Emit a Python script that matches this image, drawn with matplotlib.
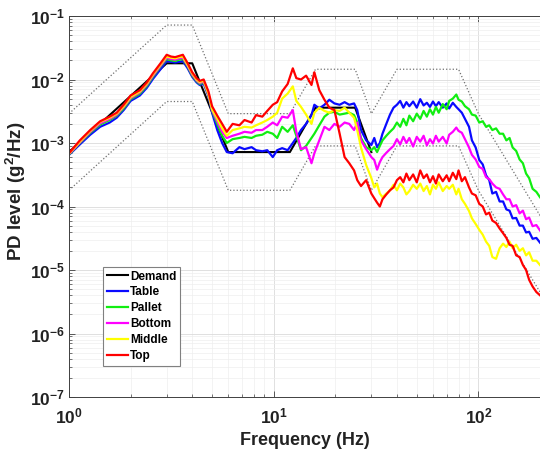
import numpy as np
import matplotlib
matplotlib.use("Agg")
import matplotlib.pyplot as plt
from matplotlib.ticker import FixedLocator, FixedFormatter, LogLocator, NullFormatter

plt.rcParams["font.family"] = ["Liberation Sans", "DejaVu Sans"]
plt.rcParams["mathtext.fontset"] = "custom"
plt.rcParams["mathtext.rm"] = "Liberation Sans"
plt.rcParams["mathtext.bf"] = "Liberation Sans:bold"

# ── Demand profile and +/-6 dB tolerance ─────────────────────────────────────
# the demand trace is only visible up to ~30 Hz; above that the measured
# curves sit on top of it
DEMAND_F = [1, 3, 4, 6, 12, 16, 25, 30]
DEMAND = [7.2e-4, 1.8e-2, 1.8e-2, 7.2e-4, 7.2e-4, 3.6e-3, 3.6e-3, 7.2e-4]

TOL_F = [1, 3, 4, 6, 12, 16, 25, 30, 40, 80, 100, 200]
UPPER = [2.9e-3, 7.2e-2, 7.2e-2, 2.9e-3, 2.9e-3, 1.45e-2, 1.45e-2, 2.9e-3,
         1.45e-2, 1.45e-2, 2.9e-3, 7.2e-5]
LOWER = [1.8e-4, 4.5e-3, 4.5e-3, 1.8e-4, 1.8e-4, 9.0e-4, 9.0e-4, 1.8e-4,
         9.0e-4, 9.0e-4, 1.8e-4, 4.5e-6]

# ── Measured PSDs (g^2/Hz) on a shared frequency grid ─────────────────────────
FREQ = [1, 1.13, 1.27, 1.42, 1.58, 1.71, 1.85, 2.0, 2.22, 2.4, 2.57, 2.8, 3.0,
        3.15, 3.3, 3.45, 3.6, 3.8, 4.0, 4.2, 4.35, 4.55, 4.8, 5.0, 5.3, 5.6, 5.9,
        6.3, 6.8, 7.2, 7.8, 8.2, 8.8, 9.3, 9.9, 10.4, 11.0, 11.7, 12.4, 12.9,
        13.6, 14.4, 15.3, 15.8, 16.7, 17.7, 18.7, 19.8, 21.0, 22.2, 23.4, 24.7,
        25.6, 26.7, 28.3, 30.0,
        31, 32, 33, 34, 35.5, 37, 38.5, 40, 41.5, 43, 44.5, 46, 48, 50, 52, 54,
        56, 58, 60, 62, 64, 67, 70, 72, 75, 78, 80, 83, 86, 90, 93, 97, 101,
        105, 109, 113, 117, 122, 127, 132, 137, 142, 147, 153, 159, 165, 171,
        177, 184, 192, 200]

TABLE = [6.5e-4, 9.5e-4, 1.35e-3, 1.8e-3, 2.1e-3, 2.5e-3, 3.3e-3, 4.6e-3,
         5.6e-3, 7.4e-3, 1.02e-2, 1.45e-2, 1.95e-2, 1.9e-2, 1.85e-2, 1.9e-2,
         1.95e-2, 1.5e-2, 1.1e-2, 9.0e-3, 8.2e-3, 8.6e-3, 5.5e-3, 3.0e-3,
         1.6e-3, 1.0e-3, 7.2e-4,
         6.9e-4, 8.6e-4, 8.0e-4, 8.6e-4, 7.7e-4, 7.4e-4, 7.7e-4, 6.0e-4, 7.7e-4,
         8.3e-4, 7.7e-4, 1.0e-3, 1.2e-3, 1.6e-3, 2.0e-3, 2.75e-3, 4.0e-3,
         3.5e-3, 4.0e-3, 4.8e-3, 4.2e-3, 4.0e-3, 4.4e-3, 4.0e-3, 4.2e-3,
         3.3e-3, 1.6e-3, 1.1e-3, 9.3e-4,
         1.2e-3, 8.6e-4, 1.0e-3, 1.4e-3, 2.0e-3, 2.8e-3, 3.6e-3, 4.0e-3,
         4.6e-3, 3.6e-3, 4.4e-3, 3.8e-3, 4.5e-3, 3.6e-3, 4.9e-3, 3.9e-3,
         4.3e-3, 3.7e-3, 4.5e-3, 3.8e-3, 4.4e-3, 3.6e-3, 4.2e-3, 3.5e-3,
         4.3e-3, 3.7e-3, 3.4e-3, 3.0e-3, 2.4e-3, 1.8e-3, 1.1e-3, 8.5e-4,
         5.4e-4, 4.6e-4, 3.1e-4, 2.6e-4, 1.6e-4, 1.7e-4, 1.2e-4, 1.2e-4,
         9.0e-5, 8.6e-5, 6.5e-5, 6.6e-5, 5.0e-5, 5.0e-5, 3.9e-5, 4.0e-5,
         3.1e-5, 3.2e-5, 2.7e-5]

PALLET = [6.6e-4, 1.0e-3, 1.45e-3, 1.95e-3, 2.3e-3, 2.7e-3, 3.5e-3, 4.9e-3,
          6.0e-3, 7.9e-3, 1.1e-2, 1.6e-2, 2.1e-2, 2.0e-2, 1.95e-2, 2.05e-2,
          2.1e-2, 1.6e-2, 1.15e-2, 9.4e-3, 8.5e-3, 9.0e-3, 5.7e-3, 3.2e-3,
          2.0e-3, 1.3e-3, 1.0e-3,
          1.15e-3, 1.2e-3, 1.25e-3, 1.2e-3, 1.3e-3, 1.35e-3, 1.5e-3, 1.4e-3,
          1.2e-3, 1.8e-3, 1.5e-3, 1.9e-3, 1.3e-3, 7.7e-4, 9.0e-4, 1.2e-3,
          1.4e-3, 1.9e-3, 2.6e-3, 3.0e-3, 3.1e-3, 2.8e-3, 2.9e-3, 3.0e-3,
          2.75e-3, 2.1e-3, 1.2e-3, 8.6e-4, 7.7e-4,
          8.6e-4, 7.2e-4, 9.0e-4, 1.1e-3, 1.3e-3, 1.5e-3, 1.7e-3, 2.1e-3,
          1.8e-3, 2.4e-3, 1.9e-3, 2.7e-3, 2.2e-3, 2.9e-3, 2.4e-3, 3.2e-3,
          2.6e-3, 3.4e-3, 2.8e-3, 3.7e-3, 3.0e-3, 4.1e-3, 3.4e-3, 4.6e-3,
          5.0e-3, 5.8e-3, 4.8e-3, 4.5e-3, 3.8e-3, 3.4e-3, 2.8e-3, 2.7e-3,
          2.1e-3, 2.2e-3, 1.8e-3, 1.9e-3, 1.6e-3, 1.7e-3, 1.4e-3, 1.4e-3,
          1.1e-3, 1.2e-3, 8.5e-4, 7.5e-4, 5.5e-4, 4.8e-4, 3.3e-4, 2.8e-4,
          1.9e-4, 1.7e-4, 1.4e-4]

BOTTOM = [6.7e-4, 1.02e-3, 1.5e-3, 2.05e-3, 2.4e-3, 2.8e-3, 3.7e-3, 5.1e-3,
          6.3e-3, 8.3e-3, 1.15e-2, 1.65e-2, 2.2e-2, 2.1e-2, 2.05e-2, 2.15e-2,
          2.2e-2, 1.65e-2, 1.2e-2, 9.7e-3, 8.8e-3, 9.3e-3, 5.8e-3, 3.3e-3,
          2.2e-3, 1.5e-3, 1.2e-3,
          1.3e-3, 1.4e-3, 1.5e-3, 1.45e-3, 1.6e-3, 1.6e-3, 1.8e-3, 2.1e-3,
          1.9e-3, 2.6e-3, 2.5e-3, 3.3e-3, 1.5e-3, 8.0e-4, 8.6e-4, 4.8e-4,
          6.9e-4, 1.1e-3, 1.8e-3, 1.6e-3, 2.0e-3, 1.8e-3, 2.1e-3, 2.0e-3,
          1.6e-3, 2.1e-3, 1.1e-3, 8.0e-4, 6.0e-4,
          5.4e-4, 3.8e-4, 5.0e-4, 6.0e-4, 7.0e-4, 8.0e-4, 9.0e-4, 1.15e-3,
          9.5e-4, 1.25e-3, 1.0e-3, 1.2e-3, 8.8e-4, 1.25e-3, 1.05e-3, 1.3e-3,
          9.2e-4, 1.15e-3, 9.8e-4, 1.3e-3, 1.05e-3, 1.25e-3, 9.8e-4, 1.35e-3,
          1.5e-3, 1.75e-3, 1.55e-3, 1.45e-3, 1.15e-3, 8.5e-4, 6.5e-4, 5.5e-4,
          4.2e-4, 3.9e-4, 2.9e-4, 2.7e-4, 2.3e-4, 2.0e-4, 1.9e-4, 1.55e-4,
          1.3e-4, 1.3e-4, 1.0e-4, 1.05e-4, 7.8e-5, 8.6e-5, 6.3e-5, 6.7e-5,
          4.9e-5, 5.1e-5, 4.2e-5]

MIDDLE = [6.8e-4, 1.05e-3, 1.55e-3, 2.15e-3, 2.5e-3, 2.9e-3, 3.8e-3, 5.3e-3,
          6.5e-3, 8.6e-3, 1.2e-2, 1.72e-2, 2.3e-2, 2.2e-2, 2.15e-2, 2.25e-2,
          2.3e-2, 1.7e-2, 1.25e-2, 1.0e-2, 9.1e-3, 9.6e-3, 6.0e-3, 3.4e-3,
          2.4e-3, 1.7e-3, 1.3e-3,
          1.6e-3, 1.7e-3, 1.8e-3, 1.75e-3, 1.9e-3, 2.1e-3, 2.3e-3, 2.6e-3,
          3.0e-3, 5.0e-3, 6.0e-3, 7.8e-3, 4.6e-3, 3.7e-3, 2.8e-3, 2.0e-3,
          3.0e-3, 3.6e-3, 3.2e-3, 3.0e-3, 3.3e-3, 3.2e-3, 3.6e-3, 3.0e-3,
          2.5e-3, 1.6e-3, 8.5e-4, 4.5e-4, 2.8e-4,
          2.0e-4, 2.3e-4, 1.6e-4, 1.4e-4, 1.6e-4, 1.8e-4, 2.2e-4, 1.8e-4,
          2.3e-4, 2.0e-4, 1.55e-4, 1.75e-4, 2.2e-4, 1.9e-4, 2.3e-4, 1.75e-4,
          2.1e-4, 1.55e-4, 2.2e-4, 1.9e-4, 2.4e-4, 1.75e-4, 2.1e-4, 1.9e-4,
          2.2e-4, 1.55e-4, 1.9e-4, 1.3e-4, 1.1e-4, 8.5e-5, 6.5e-5, 5.3e-5,
          4.3e-5, 3.6e-5, 2.8e-5, 2.4e-5, 1.6e-5, 1.5e-5, 2.2e-5, 2.6e-5,
          2.3e-5, 2.8e-5, 2.2e-5, 2.5e-5, 2.0e-5, 2.2e-5, 1.7e-5, 1.9e-5,
          1.4e-5, 1.4e-5, 1.2e-5]

TOP = [6.9e-4, 1.1e-3, 1.6e-3, 2.2e-3, 2.6e-3, 3.0e-3, 4.0e-3, 5.6e-3,
       6.8e-3, 9.0e-3, 1.25e-2, 1.8e-2, 2.45e-2, 2.3e-2, 2.25e-2, 2.35e-2,
       2.45e-2, 1.8e-2, 1.3e-2, 1.05e-2, 9.5e-3, 1.0e-2, 6.5e-3, 3.8e-3,
       2.7e-3, 2.0e-3, 1.5e-3,
       2.0e-3, 1.9e-3, 2.3e-3, 2.1e-3, 2.75e-3, 2.6e-3, 3.2e-3, 4.0e-3,
       4.4e-3, 6.5e-3, 8.5e-3, 1.5e-2, 1.05e-2, 1.0e-2, 1.15e-2, 8.2e-3,
       1.3e-2, 6.8e-3, 4.8e-3, 3.6e-3, 3.3e-3, 1.4e-3, 6.0e-4, 4.8e-4,
       3.7e-4, 2.6e-4, 2.1e-4, 2.6e-4, 1.6e-4,
       1.35e-4, 1.15e-4, 1.0e-4, 1.3e-4, 1.55e-4, 1.8e-4, 2.0e-4, 2.6e-4,
       2.9e-4, 2.4e-4, 3.3e-4, 2.6e-4, 3.2e-4, 2.4e-4, 3.7e-4, 2.8e-4,
       3.2e-4, 2.4e-4, 3.0e-4, 2.3e-4, 3.2e-4, 2.5e-4, 3.1e-4, 2.5e-4,
       3.4e-4, 2.7e-4, 3.7e-4, 2.5e-4, 2.9e-4, 2.0e-4, 1.6e-4, 1.5e-4,
       1.1e-4, 1.0e-4, 7.5e-5, 8.0e-5, 6.0e-5, 5.5e-5, 4.5e-5, 3.8e-5,
       3.2e-5, 2.5e-5, 2.4e-5, 1.7e-5, 1.6e-5, 1.2e-5, 1.0e-5, 7.0e-6,
       5.5e-6, 4.5e-6, 4.0e-6]

SERIES = [("Table", TABLE, "#0a0aff"), ("Pallet", PALLET, "#11ee11"),
          ("Bottom", BOTTOM, "#ff00ff"), ("Middle", MIDDLE, "#ffff00"),
          ("Top", TOP, "#ff0000")]

# ── Figure ───────────────────────────────────────────────────────────────────
fig = plt.figure(figsize=(5.4, 4.5), dpi=100)
ax = fig.add_axes([69 / 540, 53 / 450, 471 / 540, 381 / 450])

ax.loglog(TOL_F, UPPER, color="#707070", ls=":", lw=0.9)
ax.loglog(TOL_F, LOWER, color="#707070", ls=":", lw=0.9)
ax.loglog(DEMAND_F, DEMAND, color="black", lw=1.5, label="Demand")
for name, vals, col in SERIES:
    ax.loglog(FREQ, vals, color=col, lw=1.6, label=name)

ax.set_xlim(1, 200)
ax.set_ylim(1e-7, 1e-1)

ax.xaxis.set_major_locator(FixedLocator([1, 10, 100]))
ax.xaxis.set_major_formatter(FixedFormatter([r"$\mathbf{10^{0}}$",
                                             r"$\mathbf{10^{1}}$",
                                             r"$\mathbf{10^{2}}$"]))
ydec = [1e-7, 1e-6, 1e-5, 1e-4, 1e-3, 1e-2, 1e-1]
ax.yaxis.set_major_locator(FixedLocator(ydec))
ax.yaxis.set_major_formatter(FixedFormatter(
    [r"$\mathbf{10^{%d}}$" % e for e in range(-7, 0)]))
ax.xaxis.set_minor_locator(LogLocator(base=10, subs=np.arange(2, 10), numticks=20))
ax.yaxis.set_minor_locator(LogLocator(base=10, subs=np.arange(2, 10), numticks=20))
ax.xaxis.set_minor_formatter(NullFormatter())
ax.yaxis.set_minor_formatter(NullFormatter())

ax.tick_params(which="both", direction="in", top=True, right=False,
               colors="#404040", labelcolor="#222222", labelsize=12.5)
ax.tick_params(which="major", length=4, width=0.6)
ax.tick_params(which="minor", length=2, width=0.5)
ax.tick_params(axis="x", which="major", pad=7)
ax.tick_params(axis="y", which="major", pad=3)

ax.grid(True, which="major", color="#dadada", lw=0.6)
ax.grid(True, which="minor", color="#eeeeee", lw=0.5)
ax.set_axisbelow(True)
for side in ("left", "bottom", "top"):
    ax.spines[side].set_color("#404040")
    ax.spines[side].set_linewidth(0.7)
ax.spines["right"].set_visible(False)

ax.set_xlabel("Frequency (Hz)", fontsize=13, fontweight="bold", color="#222222",
              labelpad=4)
ax.set_ylabel(r"PD level (g$^\mathbf{2}$/Hz)", fontsize=13.5, fontweight="bold",
              color="#222222")
ax.yaxis.set_label_coords(-0.088, 0.54)

leg = ax.legend(loc="upper left", bbox_to_anchor=(34 / 471, 1 - 251 / 381),
                prop={"weight": "bold", "size": 8.5},
                handlelength=1.8, handletextpad=0.2, labelspacing=0.33,
                borderpad=0.3, borderaxespad=0, fancybox=False, framealpha=1)
leg.get_frame().set_edgecolor("#808080")
leg.get_frame().set_linewidth(0.8)

fig.savefig("out.png", dpi=100)
